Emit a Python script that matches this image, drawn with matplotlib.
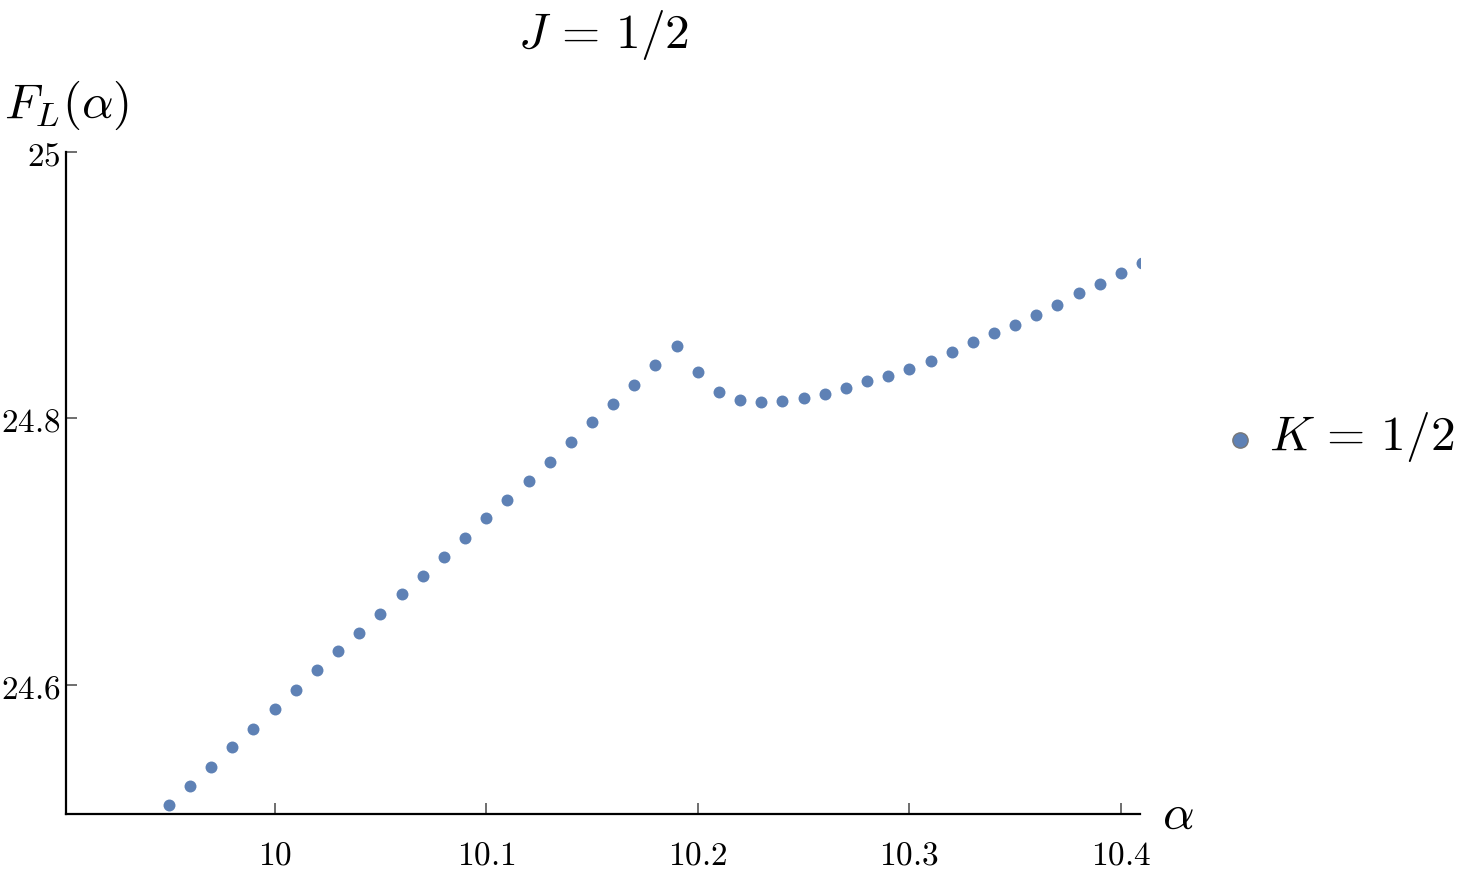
import matplotlib
matplotlib.use("Agg")
import matplotlib.pyplot as plt
import numpy as np

plt.rcParams["mathtext.fontset"] = "cm"
plt.rcParams["font.family"] = ["DejaVu Serif"]

# alpha values and F_L(alpha) (J = 1/2, K = 1/2)
alpha = [9.94, 9.95, 9.96, 9.97, 9.98, 9.99, 10.00, 10.01, 10.02, 10.03,
         10.04, 10.05, 10.06, 10.07, 10.08, 10.09, 10.10, 10.11, 10.12,
         10.13, 10.14, 10.15, 10.16, 10.17, 10.18, 10.19, 10.20, 10.21,
         10.22, 10.23, 10.24, 10.25, 10.26, 10.27, 10.28, 10.29, 10.30,
         10.31, 10.32, 10.33, 10.34, 10.35, 10.36, 10.37, 10.38, 10.39,
         10.40, 10.41]
f_l = [24.496, 24.510, 24.524, 24.538, 24.553, 24.567, 24.582, 24.596,
       24.611, 24.625, 24.639, 24.653, 24.668, 24.682, 24.696, 24.710,
       24.725, 24.739, 24.753, 24.767, 24.782, 24.797, 24.811, 24.825,
       24.840, 24.854, 24.835, 24.820, 24.814, 24.812, 24.813, 24.815,
       24.818, 24.823, 24.828, 24.832, 24.837, 24.843, 24.850, 24.857,
       24.864, 24.870, 24.878, 24.885, 24.894, 24.901, 24.909, 24.917]

xticks = [10.0, 10.1, 10.2, 10.3, 10.4]
xtick_labels = ["$10$", "$10.1$", "$10.2$", "$10.3$", "$10.4$"]
yticks = [24.6, 24.8, 25.0]
ytick_labels = ["$24.6$", "$24.8$", "$25$"]

color = "#5E81B5"

fig = plt.figure(figsize=(14.67, 8.78), dpi=100)
ax = fig.add_axes([66 / 1467, 63 / 878, (1140 - 66) / 1467, (815 - 153) / 878])

ax.plot(alpha, f_l, "o", color=color, markersize=8.6, markeredgewidth=0)

ax.set_xlim(9.9014, 10.409)
ax.set_ylim(24.503, 25.0)

ax.set_xticks(xticks)
ax.set_xticklabels(xtick_labels, fontsize=24)
ax.set_yticks(yticks)
ax.set_yticklabels(ytick_labels, fontsize=24)
ax.tick_params(direction="in", length=8, width=1.2, color="#555555", pad=4)
ax.tick_params(axis="x", pad=18)

for side in ["top", "right"]:
    ax.spines[side].set_visible(False)
for side in ["left", "bottom"]:
    ax.spines[side].set_linewidth(1.6)

# labels placed like the Mathematica output
fig.text(603 / 1467, 1 - 35 / 878, "$J\\, =\\, 1/2$", fontsize=35.5,
         ha="center", va="center")
fig.text(4 / 1467, 1 - 105 / 878, "$F_L(\\alpha)$", fontsize=35.5,
         ha="left", va="center")
fig.text(1162 / 1467, 1 - 815 / 878, "$\\alpha$", fontsize=35.5,
         ha="left", va="center")

# legend
fig.lines.append(plt.Line2D([1240 / 1467], [1 - 441 / 878], marker="o",
                            markersize=11, color=color, markeredgecolor="#777777",
                            markeredgewidth=1, transform=fig.transFigure))
fig.text(1269 / 1467, 1 - 437 / 878, "$K\\, =\\, 1/2$", fontsize=35.5,
         ha="left", va="center")

fig.savefig("out.png", dpi=100)
